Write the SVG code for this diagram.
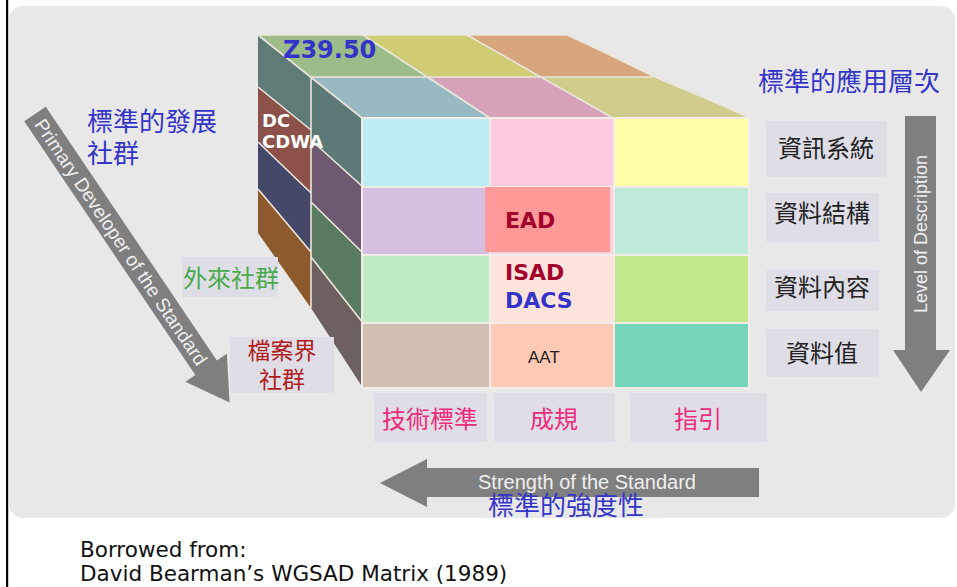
<svg xmlns="http://www.w3.org/2000/svg" width="957" height="587" viewBox="0 0 957 587">
<defs>
<style>
.cjk{font-family:"Noto Sans CJK TC","Noto Sans CJK SC",sans-serif;}
.blue{fill:#3434c8;font-size:26px;}
.lbl{fill:#dfdee7;}
.rt{fill:#222;font-size:24px;}
.pk{fill:#ee2a7b;font-size:24px;}
.bold{font-family:"DejaVu Sans",sans-serif;font-weight:bold;}
.div{fill:none;stroke:#ebe6dc;stroke-width:1.6;}
.cell{stroke:#f1ede6;stroke-width:2;}
.arrow{fill:#7f7f7f;}
.at{font-family:"Liberation Sans",Arial,sans-serif;fill:#efefef;}
.cap{font-family:"DejaVu Sans",sans-serif;font-size:21.5px;fill:#111;}
</style>
</defs>
<rect x="0" y="0" width="957" height="587" fill="#ffffff"/>
<rect x="6" y="0" width="2.2" height="587" fill="#000"/>
<rect x="9" y="6" width="946" height="512" rx="14" fill="#e8e8e8"/>

<g id="connectors">
  <g id="arrow-developer" transform="translate(35,114) rotate(56)">
    <polygon class="arrow" points="0,-13 306,-13 306,-25 348,0 306,25 306,13 0,13"/>
    <text class="at" x="8" y="7" font-size="19">Primary Developer of the Standard</text>
  </g>
  <g id="arrow-level">
    <polygon class="arrow" points="905,116 936,116 936,350 950,350 921,392 893,350 905,350"/>
    <text class="at" transform="translate(927,234) rotate(-90)" text-anchor="middle" font-size="18">Level of Description</text>
  </g>
  <g id="arrow-strength">
    <polygon class="arrow" points="380,483 427,459 427,468 759,468 759,497 427,497 427,507"/>
    <text class="at" x="478" y="489" font-size="20">Strength of the Standard</text>
  </g>
</g>

<g id="cube">
  <g id="top-face">
    <polygon points="258,35 363,35 430,77 310,77" fill="#9cbc8a"/>
    <polygon points="363,35 467,35 540,77 430,77" fill="#cfcc74"/>
    <polygon points="467,35 567,35 653,77 540,77" fill="#d8a67c"/>
    <polygon points="310,77 430,77 490,118 362,118" fill="#98b9c2"/>
    <polygon points="430,77 540,77 613,118 490,118" fill="#d6a2ba"/>
    <polygon points="540,77 653,77 750,118 613,118" fill="#cfcc8c"/>
    <path class="div" d="M258,35 H567 M310,77 H653 M363,35 L490,118 M467,35 L613,118 M567,35 L750,118"/>
  </g>
  <g id="left-face">
    <polygon points="258,35 311,77 311,130 258,87" fill="#5f7b77"/>
    <polygon points="258,87 311,130 311,193 258,142" fill="#8c5249"/>
    <polygon points="258,142 311,193 311,252 258,189" fill="#46486a"/>
    <polygon points="258,189 311,252 311,308 258,233" fill="#8d5a2d"/>
    <polygon points="311,77 363,118 363,187 311,140" fill="#5c7978"/>
    <polygon points="311,140 363,187 363,253 311,202" fill="#6d5a70"/>
    <polygon points="311,202 363,253 363,323 311,257" fill="#5a7b62"/>
    <polygon points="311,257 363,323 363,388 311,308" fill="#6c615e"/>
    <path class="div" d="M258,35 L362,118 M258,87 L311,130 M258,142 L311,193 M258,189 L311,252 M311,140 L363,187 M311,202 L363,253 M311,257 L363,323 M311,77 V308"/>
  </g>
  <g id="front-face">
    <rect class="cell" x="362" y="118" width="128" height="69" fill="#bdecf2"/>
    <rect class="cell" x="490" y="118" width="124" height="69" fill="#fecadf"/>
    <rect class="cell" x="614" y="118" width="135" height="69" fill="#fefea9"/>
    <rect class="cell" x="362" y="187" width="128" height="68" fill="#d4bfe0"/>
    <rect class="cell" x="490" y="187" width="124" height="68" fill="#fdd2dc"/>
    <rect class="cell" x="614" y="187" width="135" height="68" fill="#bfead9"/>
    <rect class="cell" x="362" y="255" width="128" height="68" fill="#c1ebc5"/>
    <rect class="cell" x="490" y="255" width="124" height="68" fill="#fde3dc"/>
    <rect class="cell" x="614" y="255" width="135" height="68" fill="#c3e88c"/>
    <rect class="cell" x="362" y="323" width="128" height="65" fill="#d2bfb3"/>
    <rect class="cell" x="490" y="323" width="124" height="65" fill="#ffcab5"/>
    <rect class="cell" x="614" y="323" width="135" height="65" fill="#76d6bb"/>
  </g>
</g>

<g id="node-z3950">
  <text class="bold" x="283" y="58" font-size="24" fill="#3434c8">Z39.50</text>
</g>
<g id="node-dc">
  <text class="bold" x="262" y="127" font-size="18" fill="#ffffff">DC</text>
  <text class="bold" x="262" y="148" font-size="18" fill="#ffffff">CDWA</text>
</g>
<g id="node-ead">
  <rect x="485" y="187" width="125" height="65" fill="#ff9a98"/>
  <text class="bold" x="505" y="228" font-size="22" fill="#a3002c">EAD</text>
</g>
<g id="node-isad">
  <text class="bold" x="505" y="280" font-size="22" fill="#a3002c">ISAD</text>
  <text class="bold" x="505" y="308" font-size="22" fill="#3434c8">DACS</text>
</g>
<g id="node-aat">
  <text x="528" y="363" font-family="Liberation Sans, Arial, sans-serif" font-size="17" fill="#222">AAT</text>
</g>

<g id="node-dev-community">
  <text class="cjk blue" x="87" y="131">標準的發展</text>
  <text class="cjk blue" x="87" y="163">社群</text>
</g>
<g id="node-external">
  <rect class="lbl" x="182" y="257" width="96" height="40"/>
  <text class="cjk" x="183" y="287" font-size="24" fill="#4aaa4a">外來社群</text>
</g>
<g id="node-archive">
  <rect class="lbl" x="230" y="337" width="104" height="56"/>
  <text class="cjk" x="282" y="359" font-size="23" fill="#b01c1c" text-anchor="middle">檔案界</text>
  <text class="cjk" x="282" y="388" font-size="23" fill="#b01c1c" text-anchor="middle">社群</text>
</g>

<g id="node-level-title">
  <text class="cjk blue" x="758" y="91" font-size="27.5">標準的應用層次</text>
</g>
<g id="node-infosys">
  <rect class="lbl" x="766" y="121" width="121" height="56"/>
  <text class="cjk rt" x="826" y="157" text-anchor="middle">資訊系統</text>
</g>
<g id="node-structure">
  <rect class="lbl" x="766" y="193" width="113" height="49"/>
  <text class="cjk rt" x="822" y="222" text-anchor="middle">資料結構</text>
</g>
<g id="node-content">
  <rect class="lbl" x="766" y="270" width="113" height="41"/>
  <text class="cjk rt" x="822" y="296" text-anchor="middle">資料內容</text>
</g>
<g id="node-value">
  <rect class="lbl" x="766" y="329" width="113" height="48"/>
  <text class="cjk rt" x="822" y="362" text-anchor="middle">資料值</text>
</g>

<g id="node-technical">
  <rect class="lbl" x="374" y="393" width="113" height="49"/>
  <text class="cjk pk" x="430" y="428" text-anchor="middle">技術標準</text>
</g>
<g id="node-convention">
  <rect class="lbl" x="494" y="393" width="121" height="49"/>
  <text class="cjk pk" x="554" y="428" text-anchor="middle">成規</text>
</g>
<g id="node-guideline">
  <rect class="lbl" x="630" y="393" width="137" height="49"/>
  <text class="cjk pk" x="698" y="428" text-anchor="middle">指引</text>
</g>

<g id="node-strength-title">
  <text class="cjk blue" x="488" y="515">標準的強度性</text>
</g>

<g id="caption">
  <text class="cap" x="80" y="557">Borrowed from:</text>
  <text class="cap" x="80" y="581">David Bearman’s WGSAD Matrix (1989)</text>
</g>
</svg>
